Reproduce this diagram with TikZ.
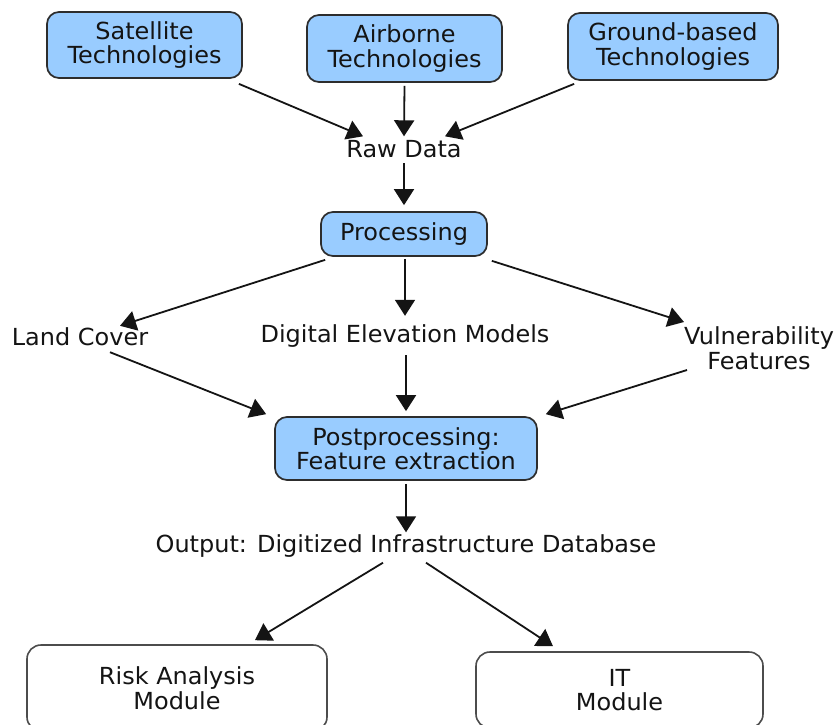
\documentclass[tikz,border=0pt]{standalone}
\usepackage{fontspec}
\setmainfont{DejaVu Sans}[FakeStretch=1.02]
\usetikzlibrary{arrows.meta,calc}
\definecolor{boxblue}{RGB}{153,204,255}
\definecolor{ink}{RGB}{20,20,20}
\definecolor{edge}{RGB}{45,45,45}
\begin{document}
\begin{tikzpicture}[x=1pt,y=-1pt,
  every node/.style={font=\fontsize{23.5}{24.5}\selectfont, text=ink},
  bluebox/.style={draw=edge, line width=1.7pt, fill=boxblue, rounded corners=12pt, align=center, inner sep=0pt},
  whitebox/.style={draw=black!70, line width=1.6pt, fill=white, rounded corners=14pt, align=center, inner sep=0pt},
  lbl/.style={inner sep=0pt, text height=17pt, text depth=4pt, align=center},
  arr/.style={draw=ink, line width=1.8pt, -{Triangle[length=16pt,width=20pt]}}
]
\useasboundingbox (0,0) rectangle (838,724);
\clip (0,0) rectangle (838,724);
\fill[white] (0,0) rectangle (838,724);
\node[bluebox, minimum width=195pt, minimum height=66pt] (sat) at (144.5,45) {Satellite\\Technologies};
\node[bluebox, minimum width=195pt, minimum height=67pt] (air) at (404.5,48.5) {Airborne\\Technologies};
\node[bluebox, minimum width=210pt, minimum height=67pt] (grd) at (673,46.5) {Ground-based\\Technologies};
\node[lbl] (raw) at (404,151) {Raw Data};
\node[bluebox, minimum width=166pt, minimum height=44pt] (proc) at (404,234) {Processing};
\node[lbl] (land) at (80,338.5) {Land Cover};
\node[lbl] (dem) at (405,335.5) {Digital Elevation Models};
\node[inner sep=0pt, align=center] (vul) at (759,348) {Vulnerability\\Features};
\node[bluebox, minimum width=262pt, minimum height=63pt] (post) at (406,448.5) {Postprocessing:\\Feature extraction};
\node[lbl] (out) at (406,546) {Output: Digitized Infrastructure Database};
\node[whitebox, minimum width=300pt, minimum height=86pt] (risk) at (177,688) {Risk Analysis\\Module};
\node[whitebox, minimum width=287pt, minimum height=76pt] (it) at (619.5,690) {IT\\Module};

\draw[arr] ($(sat.south east)+(-4,5)$) -- ($(raw.north)+(-41,-4)$);
\draw[arr] ($(air.south)+(0,3)$) -- ($(raw.north)+(0,-4)$);
\draw[arr] ($(grd.south west)+(7,3)$) -- ($(raw.north)+(41,-4)$);
\draw[arr] ($(raw.south)+(0,1.5)$) -- ($(proc.north)+(0,-6)$);
\draw[arr] ($(proc.south west)+(5,3)$) -- ($(land.north)+(40,-2)$);
\draw[arr] ($(proc.south)+(1,2)$) -- ($(dem.north)+(0,-9)$);
\draw[arr] ($(proc.south east)+(4,4)$) -- ($(vul.center)+(-75,-26)$);
\draw[arr] ($(land.south)+(30,3)$) -- ($(post.north west)+(-8,-2)$);
\draw[arr] ($(dem.south)+(1,9)$) -- ($(post.north)+(0,-5)$);
\draw[arr] ($(vul.center)+(-72,22)$) -- ($(post.north east)+(8,-2)$);
\draw[arr] ($(post.south)+(0,3)$) -- ($(out.north)+(0,-3)$);
\draw[arr] ($(out.south)+(-23,6)$) -- ($(risk.north)+(78,-4)$);
\draw[arr] ($(out.south)+(20,6)$) -- ($(it.north)+(-66.5,-5)$);
\end{tikzpicture}
\end{document}
